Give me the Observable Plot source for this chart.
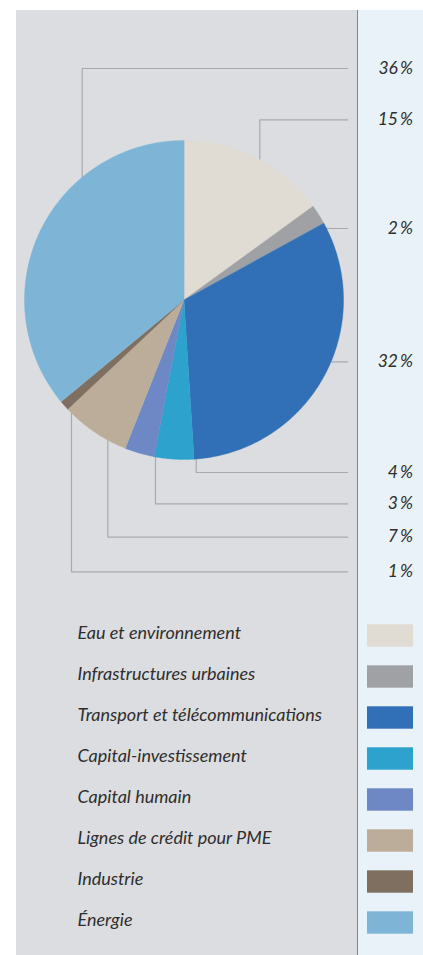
<!DOCTYPE html>
<html>
<head>
<meta charset="utf-8">
<script src="https://cdn.jsdelivr.net/npm/d3@7"></script>
<script src="https://cdn.jsdelivr.net/npm/@observablehq/plot@0.6"></script>
<style>
  html, body { margin: 0; padding: 0; background: #fff; overflow: hidden; }
  #page { position: relative; width: 423px; height: 955px; background: #fff; }
  .panel { position: absolute; }
</style>
</head>
<body>
<div id="page">
  <div class="panel" style="left:16px;top:10px;width:341px;height:945px;background:#dcdde0"></div>
  <div class="panel" style="left:358px;top:10px;width:65px;height:945px;background:#e9f2f9"></div>
  <div class="panel" style="left:356.5px;top:10px;width:1.5px;height:945px;background:#3a9dcc"></div>
  <div id="chart" class="panel" style="left:0;top:0"></div>
  <div id="legend" class="panel" style="left:0;top:600px"></div>
</div>
<script>
// ---- data ----
const categories = [
  "Eau et environnement",
  "Infrastructures urbaines",
  "Transport et télécommunications",
  "Capital-investissement",
  "Capital humain",
  "Lignes de crédit pour PME",
  "Industrie",
  "Énergie"
];
const shares = [15, 2, 32, 4, 3, 7, 1, 36];
const colors = ["#e0dbd3", "#a0a1a5", "#3170b7", "#2ca2cc", "#6d88c4", "#bbad9a", "#7f6f60", "#7eb5d7"];

// ---- layout (pixels) ----
const FONT = "Lato, 'Open Sans', sans-serif";
const TEXT = "#2e2e2e";
const LEADER = "#a9aaad";
const cx = 183.5, cy = 299.5, R = 159.5;
const leaderEndX = 347.3, labelX = 412.5;
const labelRowY = [119.3, 228, 361.3, 472, 503.3, 536.7, 571.3, 68];
const leaderElbowX = [259.3, null, null, 195.7, 155, 107.3, 71, 81.7];

const table = categories.map((c, i) => ({category: c, share: shares[i]}));
const arcs = d3.pie().sort(null).value(d => d.share)(table);

const slicePts = [];
arcs.forEach(a => {
  const cat = a.data.category;
  slicePts.push({cat, x: cx, y: cy});
  const n = Math.max(2, Math.ceil((a.endAngle - a.startAngle) / 0.01));
  for (let k = 0; k <= n; k++) {
    const t = a.startAngle + (a.endAngle - a.startAngle) * k / n;
    slicePts.push({cat, x: cx + R * Math.sin(t), y: cy - R * Math.cos(t)});
  }
});

const leaderPts = [];
table.forEach((d, i) => {
  const ry = labelRowY[i], ex = leaderElbowX[i];
  if (ex != null) {
    leaderPts.push({cat: d.category, x: ex, y: cy});
    leaderPts.push({cat: d.category, x: ex, y: ry});
  } else {
    leaderPts.push({cat: d.category, x: cx, y: ry});
  }
  leaderPts.push({cat: d.category, x: leaderEndX, y: ry});
});

const colorScale = {type: "ordinal", domain: categories, range: colors};

const chart = Plot.plot({
  width: 423, height: 600,
  margin: 0,
  style: {background: "transparent", fontFamily: FONT},
  x: {domain: [0, 423], range: [0, 423], axis: null},
  y: {domain: [0, 600], range: [0, 600], axis: null},
  color: colorScale,
  marks: [
    Plot.line(leaderPts, {x: "x", y: "y", z: "cat", stroke: LEADER, strokeWidth: 1.2}),
    Plot.line(slicePts, {x: "x", y: "y", z: "cat", fill: "cat", stroke: "cat", strokeWidth: 0.4, curve: "linear-closed"}),
    Plot.text(table, {
      x: labelX, y: (d, i) => labelRowY[i],
      text: d => d.share + "\u2009%",
      textAnchor: "end", lineAnchor: "bottom", dy: 5,
      fontSize: 17.5, fontStyle: "italic", fill: TEXT, fontFamily: FONT
    })
  ]
});
document.getElementById("chart").appendChild(chart);

const step = 41.57, firstCenter = 33.5;
const legend = Plot.plot({
  width: 423, height: 355,
  margin: 0,
  style: {background: "transparent", fontFamily: FONT},
  x: {domain: [0, 423], range: [0, 423], axis: null},
  y: {type: "band", domain: categories, range: [firstCenter - step / 2, firstCenter + step * (categories.length - 0.5)], padding: 0, axis: null},
  color: colorScale,
  marks: [
    Plot.barX(categories, {y: d => d, x1: 367, x2: 413, fill: d => d, insetTop: 9.3, insetBottom: 9.3}),
    Plot.text(categories, {
      y: d => d, x: 77, text: d => d,
      textAnchor: "start", lineAnchor: "bottom", dy: 2.5,
      fontSize: 18, fontStyle: "italic", fill: TEXT, fontFamily: FONT
    })
  ]
});
document.getElementById("legend").appendChild(legend);
</script>
</body>
</html>
